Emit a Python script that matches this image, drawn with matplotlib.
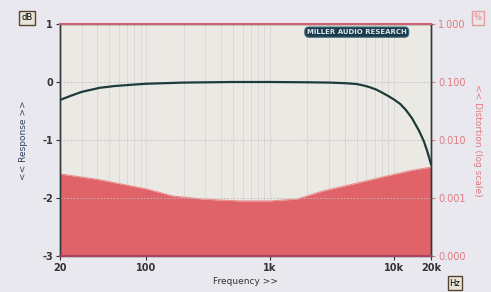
import numpy as np
from matplotlib import pyplot as plt

# frequency response (dB)
resp_freq = [20, 25, 30, 42, 55, 73, 100, 200, 500, 1000, 2000, 3000, 4000, 5000, 5700, 6400,
             7200, 8000, 9000, 10000, 11300, 12500, 14000, 16000, 17500, 18500, 19300, 20000]
resp_db = [-0.31, -0.23, -0.17, -0.1, -0.07, -0.05, -0.03, -0.01, 0.0, 0.0, -0.005, -0.01, -0.02,
           -0.035, -0.06, -0.09, -0.13, -0.18, -0.24, -0.3, -0.38, -0.48, -0.62, -0.84, -1.02,
           -1.17, -1.3, -1.42]

# distortion (%), log scale on right axis
dist_freq = [20, 40, 100, 164, 300, 570, 1000, 1650, 2670, 5000, 8800, 14000, 20000]
dist_pct = [0.0026, 0.0021, 0.00143, 0.00108, 0.00095, 0.00089, 0.00089, 0.00096, 0.00132, 0.0018, 0.0024, 0.003, 0.0034]

x_ticks = [20, 100, 1000, 10000, 20000]
x_labels = ['20', '100', '1k', '10k', '20k']
y_ticks = [1, 0, -1, -2, -3]
r_ticks = [1.0, 0.1, 0.01, 0.001, 0.0001]
r_labels = ['1.000', '0.100', '0.010', '0.001', '0.000']

PINK = '#e07a80'
bg = '#e9e8ee'

fig = plt.figure(figsize=(4.91, 2.92), dpi=100, facecolor=bg)
ax = fig.add_axes([60 / 491, 36 / 292, 371 / 491, 232 / 292])

ax2 = ax.twinx()
ax2.set_yscale('log')
ax2.set_ylim(0.0001, 1.0)
ax2.fill_between(dist_freq, 0.0001, dist_pct, color='#e0636a', lw=0, zorder=1)
ax2.plot(dist_freq, dist_pct, color='#ec9090', lw=0.8, zorder=1.1)
ax2.set_yticks(r_ticks)
ax2.set_yticklabels(r_labels)
ax2.minorticks_off()
ax2.tick_params(axis='y', colors=PINK, labelsize=7, length=3, pad=2)

# response on top of the distortion fill
ax.set_zorder(ax2.get_zorder() + 1)
ax.patch.set_visible(False)
ax2.patch.set_visible(True)
ax2.patch.set_facecolor('#ebe9e4')
ax.set_xscale('log')
ax.set_xlim(20, 20000)
ax.set_ylim(-3, 1)
ax.plot(resp_freq, resp_db, color='#1e3a3a', lw=1.6, zorder=3)

ax.set_xticks(x_ticks)
ax.set_xticklabels(x_labels, fontweight='bold')
ax.set_yticks(y_ticks)
ax.set_yticklabels(['1', '0', '-1', '-2', '-3'], fontweight='bold')
ax.tick_params(axis='both', labelsize=7, length=3, pad=2, colors='#333333')
ax.tick_params(axis='x', which='minor', length=0)

# grid
for f in [30, 40, 50, 60, 70, 80, 90, 200, 300, 400, 500, 600, 700, 800, 900,
          2000, 3000, 4000, 5000, 6000, 7000, 8000, 9000, 100, 1000, 10000]:
    ax2.axvline(f, color='#d8d6d6', lw=0.6, zorder=0.5)
for yv in [0, -1, -2]:
    ax.axhline(yv, color='#c0b8b8', lw=0.6, ls=(0, (2, 2)), zorder=1)

for a in (ax, ax2):
    for s in a.spines.values():
        s.set_color('#2e3b3b')
        s.set_linewidth(1.0)
ax.spines['top'].set_color('#d06070')
ax.spines['top'].set_linewidth(1.5)
ax.spines['bottom'].set_color('#b04060')
ax.spines['bottom'].set_linewidth(1.5)

ax.set_xlabel('Frequency >>', fontsize=6.5, color='#333333', labelpad=3)
ax.set_ylabel('<< Response >>', fontsize=6.5, color='#334466', labelpad=10)
ax2.set_ylabel('<< Distortion (log scale)', fontsize=6.5, color=PINK, rotation=270, labelpad=12)

box = dict(boxstyle='square,pad=0.25', fc='#e8e4d8', ec='#554433', lw=1)
fig.text(27 / 491, 1 - 18 / 292, 'dB', fontsize=6, ha='center', va='center', bbox=box)
fig.text(478 / 491, 1 - 18 / 292, '%', fontsize=6, ha='center', va='center', color=PINK,
         bbox=dict(boxstyle='square,pad=0.25', fc='#ece6e6', ec='#e0a0a0', lw=1))
fig.text(455 / 491, 1 - 283 / 292, 'Hz', fontsize=6, ha='center', va='center', bbox=box)

# logo
ax.text(0.8, 0.965, 'MILLER AUDIO RESEARCH', transform=ax.transAxes, fontsize=5,
        color='#d8e6f0', ha='center', va='center', fontweight='bold',
        bbox=dict(boxstyle='round,pad=0.3,rounding_size=0.6', fc='#1d3a4a', ec='#3a6a7a', lw=0.8))

fig.savefig('out.png', dpi=100, facecolor=bg)
